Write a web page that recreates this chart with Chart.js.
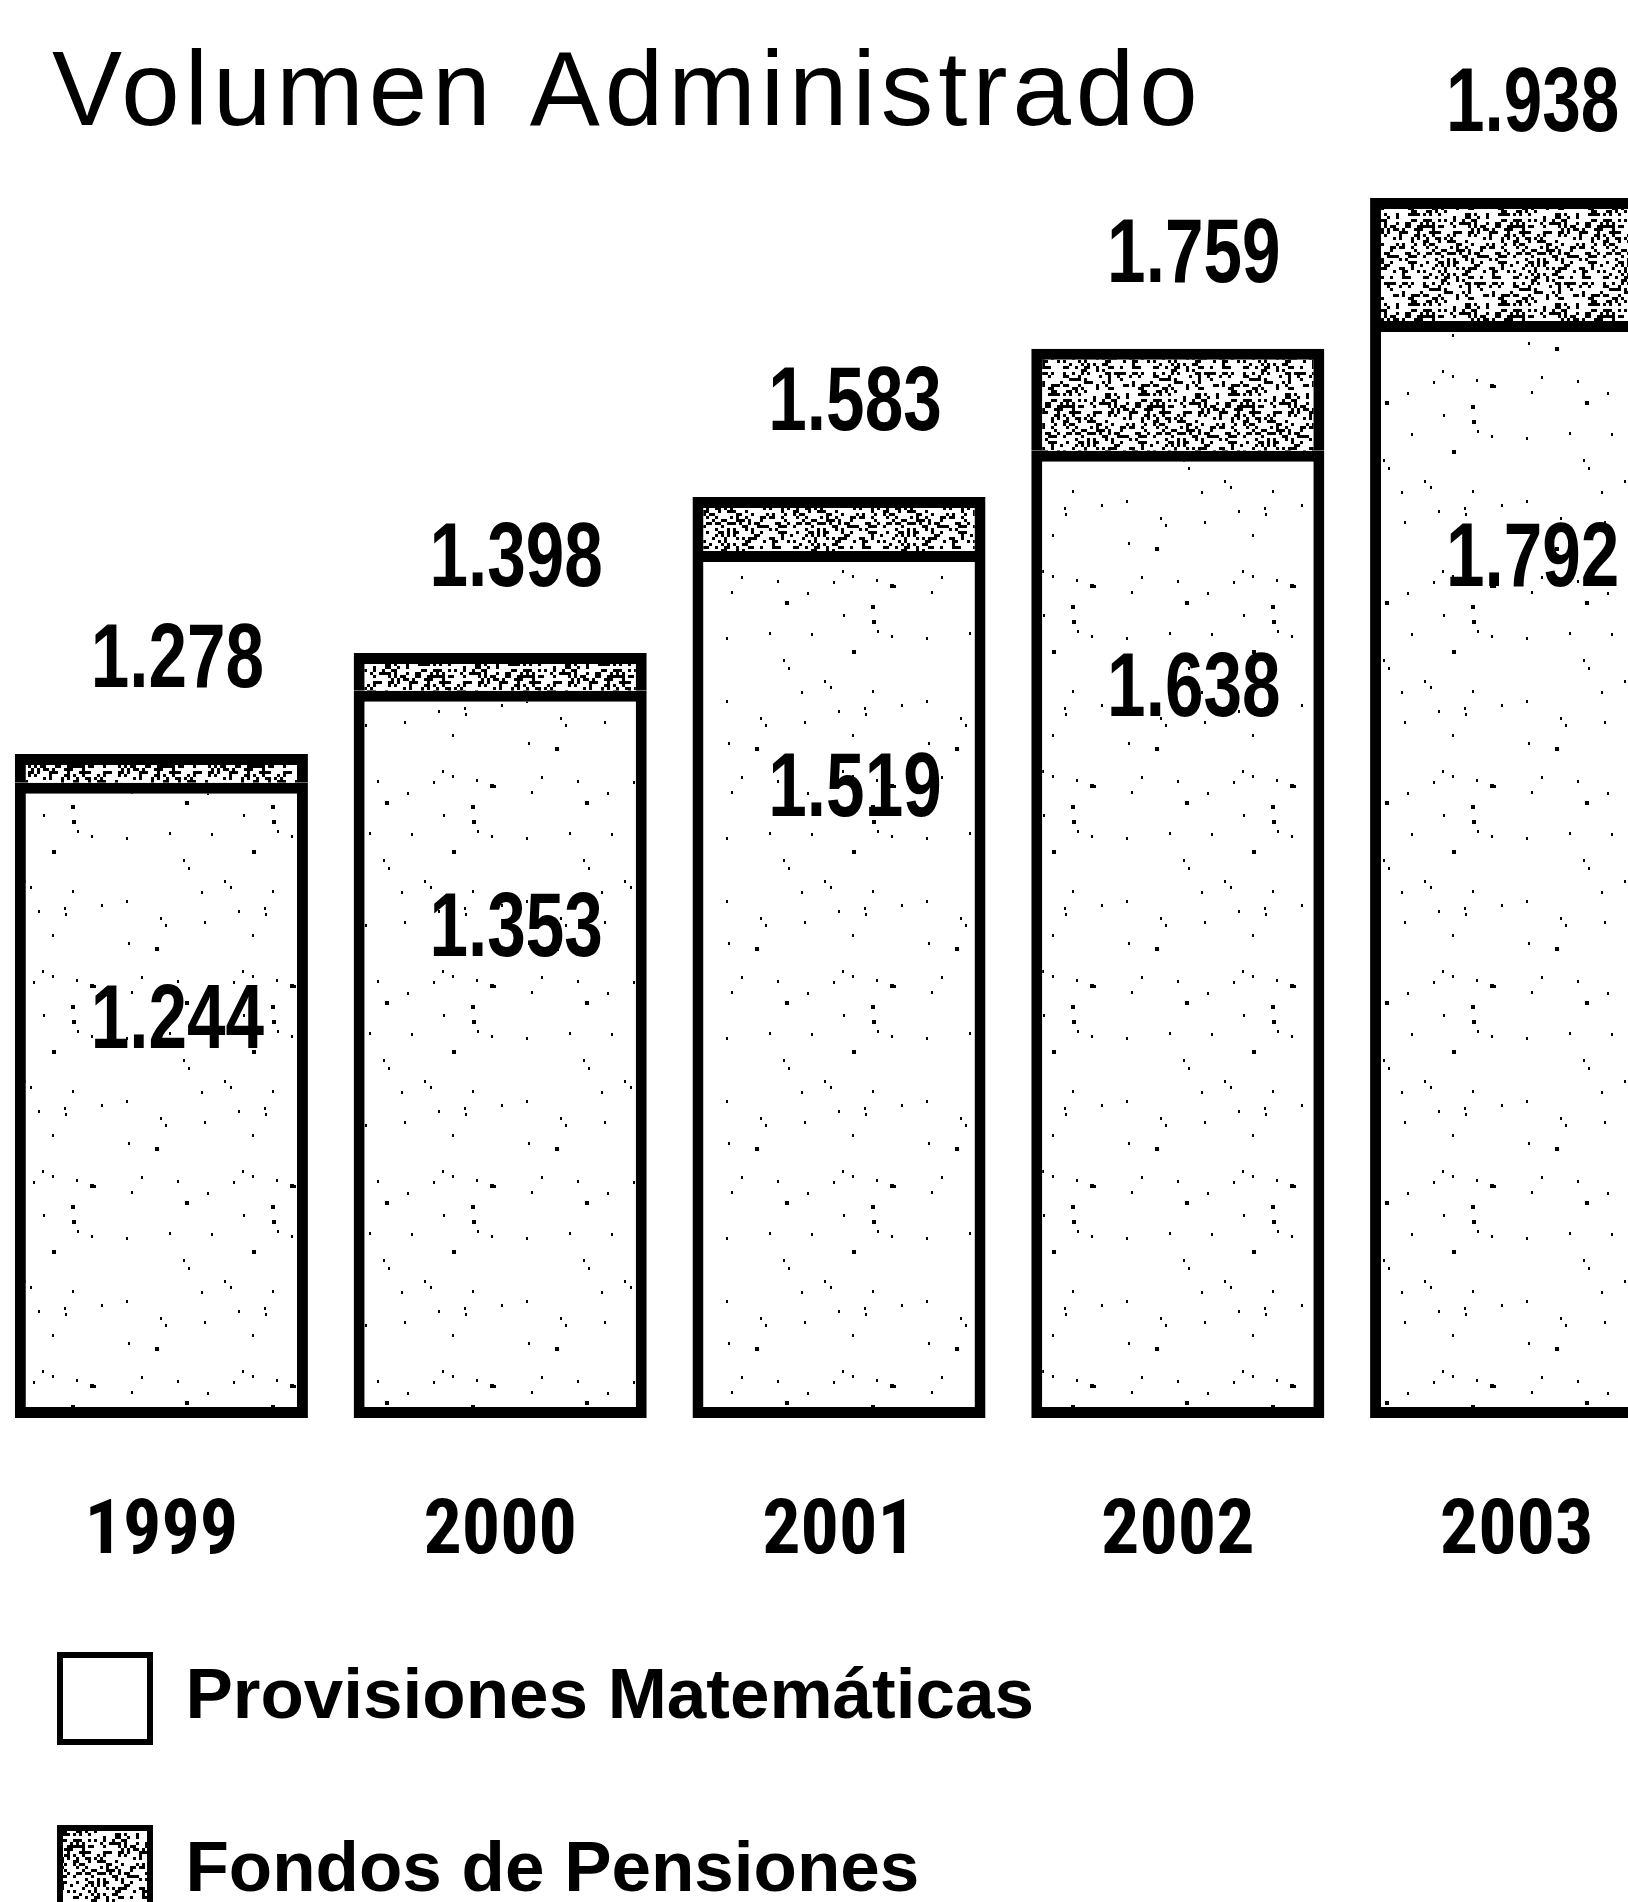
<!DOCTYPE html>
<html lang="es">
<head>
<meta charset="utf-8">
<title>Volumen Administrado</title>
<script src="https://cdn.jsdelivr.net/npm/chart.js"></script>
<style>
  html, body { margin: 0; padding: 0; background: #fff; overflow: hidden; }
  #wrap { position: absolute; left: -26px; top: 0; }
</style>
</head>
<body>
<div id="wrap"><canvas id="chart" width="1712" height="1925"></canvas></div>
<script>
// Volumen administrado (millones), por año
const TITLE = 'Volumen Administrado';
const YEARS = ['1999', '2000', '2001', '2002', '2003'];
const PROVISIONES = [1244, 1353, 1519, 1638, 1792];   // Provisiones Matemáticas
const FONDOS = [34, 45, 64, 121, 146];                 // Fondos de Pensiones
const SERIES_NAMES = ['Provisiones Matemáticas', 'Fondos de Pensiones'];
const Y_MIN = 490;
const Y_MAX = 1970;

const INK = '#000';
const SANS = '"Liberation Sans", Arial, sans-serif';
const CONDENSED = '"Roboto Condensed", "Liberation Sans", Arial, sans-serif';

// "1278" -> "1.278"
function fmt(v) {
  const k = Math.floor(v / 1000);
  const r = String(v % 1000).padStart(3, '0');
  return k > 0 ? k + '.' + r : String(v);
}

// Stipple textures for the two series (fixed hash, so the texture is stable)
function hash(a, b) {
  let h = (a * 374761393 + b * 668265263) | 0;
  h = (h ^ (h >>> 13)) * 1274126177 | 0;
  h = h ^ (h >>> 16);
  return (h >>> 0) / 4294967296;
}
function sparseStipple() {
  const n = 200;
  const c = document.createElement('canvas');
  c.width = n; c.height = n;
  const g = c.getContext('2d');
  g.fillStyle = '#fff'; g.fillRect(0, 0, n, n);
  g.fillStyle = INK;
  for (let k = 0; k < 38; k++) {
    const x = Math.floor(hash(k, 7) * (n - 4));
    const y = Math.floor(hash(k, 19) * (n - 4));
    const big = hash(k, 31) > 0.7;
    g.fillRect(x, y, big ? 4 : 2, big ? 4 : 3);
  }
  return g.createPattern(c, 'repeat');
}
function denseStipple() {
  const cell = 3, cells = 30, n = cell * cells;
  const c = document.createElement('canvas');
  c.width = n; c.height = n;
  const g = c.getContext('2d');
  g.fillStyle = '#fff'; g.fillRect(0, 0, n, n);
  g.fillStyle = INK;
  for (let i = 0; i < cells; i++) {
    for (let j = 0; j < cells; j++) {
      if (hash(i + 101, j + 53) < 0.3) g.fillRect(i * cell, j * cell, cell, cell);
    }
  }
  return g.createPattern(c, 'repeat');
}

// Heading in the top-left corner
const heading = {
  id: 'heading',
  afterDraw(chart) {
    const ctx = chart.ctx;
    ctx.save();
    ctx.fillStyle = INK;
    ctx.font = '105px ' + SANS;
    ctx.letterSpacing = '5px';
    ctx.textAlign = 'left';
    ctx.textBaseline = 'alphabetic';
    ctx.fillText(TITLE, 78, 125);
    ctx.restore();
  }
};

// Totals above each stack, Provisiones value inside the lower segment
const LABEL_DX = 16;
function drawNarrow(ctx, text, x, y) {
  ctx.save();
  ctx.translate(x, y);
  ctx.scale(0.77, 1);
  ctx.fillText(text, 0, 0);
  ctx.restore();
}
const valueLabels = {
  id: 'valueLabels',
  afterDatasetsDraw(chart) {
    const ctx = chart.ctx;
    const prov = chart.getDatasetMeta(0).data;
    const fond = chart.getDatasetMeta(1).data;
    ctx.save();
    ctx.fillStyle = INK;
    ctx.font = 'bold 90px ' + SANS;
    ctx.textAlign = 'center';
    ctx.textBaseline = 'middle';
    YEARS.forEach((_, i) => {
      drawNarrow(ctx, fmt(PROVISIONES[i] + FONDOS[i]), fond[i].x + LABEL_DX, fond[i].y - 92);
      drawNarrow(ctx, fmt(PROVISIONES[i]), prov[i].x + LABEL_DX, prov[i].y + 240);
    });
    ctx.restore();
  }
};

Chart.defaults.font.family = SANS;
Chart.defaults.color = INK;

new Chart(document.getElementById('chart'), {
  type: 'bar',
  data: {
    labels: YEARS,
    datasets: [
      {
        label: SERIES_NAMES[0],
        data: PROVISIONES,
        base: Y_MIN,
        backgroundColor: sparseStipple(),
        borderColor: INK,
        borderWidth: 11,
        borderSkipped: false
      },
      {
        label: SERIES_NAMES[1],
        data: FONDOS,
        backgroundColor: denseStipple(),
        borderColor: INK,
        borderWidth: 11,
        borderSkipped: 'start'
      }
    ]
  },
  options: {
    responsive: false,
    animation: false,
    events: [],
    layout: { padding: { top: 171, left: 0, right: 0, bottom: 0 } },
    datasets: { bar: { categoryPercentage: 1, barPercentage: 0.865 } },
    scales: {
      x: {
        stacked: true,
        grid: { display: false, drawTicks: false },
        border: { display: false },
        ticks: {
          padding: 70,
          maxRotation: 0,
          autoSkip: false,
          color: INK,
          font: { family: CONDENSED, size: 76, weight: 'bold' }
        },
        afterFit(s) { s.height = 151; }
      },
      y: {
        stacked: true,
        min: Y_MIN,
        max: Y_MAX,
        grid: { display: false, drawTicks: false },
        border: { display: false },
        ticks: { display: false },
        afterFit(s) { s.width = 18; }
      }
    },
    plugins: {
      title: { display: false },
      tooltip: { enabled: false },
      legend: {
        display: true,
        position: 'bottom',
        align: 'start',
        labels: {
          boxWidth: 90,
          boxHeight: 87,
          padding: 86,
          color: INK,
          font: { family: SANS, size: 71, weight: 'bold' },
          generateLabels(chart) {
            const items = Chart.defaults.plugins.legend.labels.generateLabels(chart);
            items.forEach((it, i) => {
              it.lineWidth = 6;
              if (i === 0) it.fillStyle = '#fff';
            });
            return items;
          }
        }
      }
    }
  },
  plugins: [valueLabels, heading]
});
</script>
</body>
</html>
